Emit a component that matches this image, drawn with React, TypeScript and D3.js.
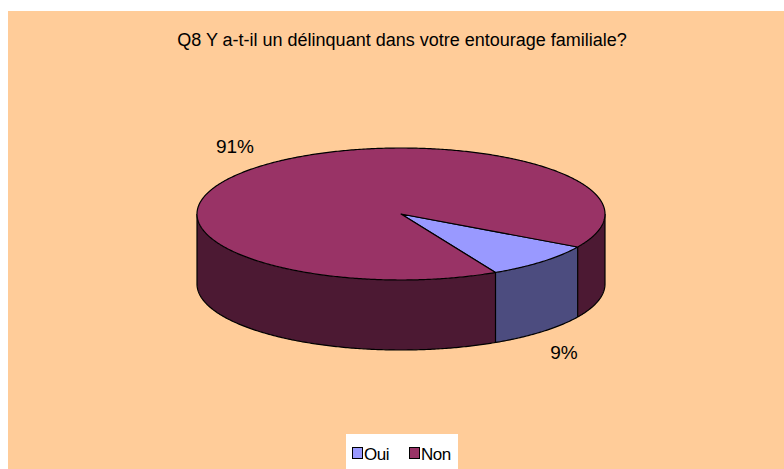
import React from "react";
import * as d3 from "d3";

const categories = ["Oui", "Non"];
const values = [9, 91];
const labels = ["9%", "91%"];
const topColors = ["#9999FF", "#993366"];
const sideColors = ["#4C4C7F", "#4C1933"];

const W = 784, H = 469;
const cx = 401, cy = 214, rx = 204, ry = 66, depth = 70;

function pt(a: number, dy = 0): [number, number] {
  return [cx + rx * Math.sin(a), cy - ry * Math.cos(a) + dy];
}

function arcPoints(a0: number, a1: number, dy = 0) {
  const n = Math.max(2, Math.ceil(Math.abs(a1 - a0) / 0.01));
  const pts: [number, number][] = [];
  for (let i = 0; i <= n; i++) pts.push(pt(a0 + (a1 - a0) * (i / n), dy));
  return pts;
}

export default function App() {
  const start = (120 * Math.PI) / 180;
  const pie = d3.pie<number>().sort(null).startAngle(start).endAngle(start + 2 * Math.PI);
  const arcs = pie(values);
  const line = d3.line();

  const walls: { d: string; color: string }[] = [];
  const edges: string[] = [];
  arcs.forEach((a, i) => {
    for (const k of [0, 1]) {
      const lo = Math.PI / 2 + k * 2 * Math.PI;
      const hi = (3 * Math.PI) / 2 + k * 2 * Math.PI;
      const s = Math.max(a.startAngle, lo);
      const e = Math.min(a.endAngle, hi);
      if (e > s) {
        const top = arcPoints(s, e);
        const bot = arcPoints(e, s, depth);
        walls.push({ d: line([...top, ...bot])! + "Z", color: sideColors[i] });
      }
    }
  });
  arcs.forEach((a) => {
    const ang = a.startAngle % (2 * Math.PI);
    if (Math.cos(ang) < 0) {
      const p = pt(ang);
      edges.push(line([p, [p[0], p[1] + depth]])!);
    }
  });
  edges.push(line([pt(Math.PI / 2), pt(Math.PI / 2, depth)])!);
  edges.push(line([pt((3 * Math.PI) / 2), pt((3 * Math.PI) / 2, depth)])!);
  const bottomCurve = line(arcPoints(Math.PI / 2, (3 * Math.PI) / 2, depth))!;

  const tops = arcs.map((a, i) => {
    const pts = [[cx, cy] as [number, number], ...arcPoints(a.startAngle, a.endAngle)];
    return { d: line(pts)! + "Z", color: topColors[i] };
  });

  const labelPos: [number, number][] = [
    [564, 359],
    [235, 153],
  ];

  const font = "'Liberation Sans', Arial, sans-serif";

  return (
    <svg width={W} height={H} style={{ position: "absolute", left: 0, top: 0 }}>
      <rect x={8} y={11} width={776} height={458} fill="#FFCC99" />
      <text x={402} y={46} textAnchor="middle" fontFamily={font} fontSize={18} fill="#000">
        Q8 Y a-t-il un délinquant dans votre entourage familiale?
      </text>
      {walls.map((w, i) => (
        <path key={"w" + i} d={w.d} fill={w.color} stroke="none" />
      ))}
      <path d={bottomCurve} fill="none" stroke="#000" strokeWidth={1.2} />
      {edges.map((d, i) => (
        <path key={"e" + i} d={d} fill="none" stroke="#000" strokeWidth={1.2} />
      ))}
      {tops.map((t, i) => (
        <path key={"t" + i} d={t.d} fill={t.color} stroke="#000" strokeWidth={1.2} strokeLinejoin="round" />
      ))}
      {labels.map((l, i) => (
        <text key={"l" + i} x={labelPos[i][0]} y={labelPos[i][1]} textAnchor="middle" fontFamily={font} fontSize={19} fill="#000">
          {l}
        </text>
      ))}
      <rect x={346} y={434} width={112} height={40} fill="#FFFFFF" />
      {categories.map((c, i) => {
        const x0 = i === 0 ? 352 : 409;
        return (
          <g key={"lg" + i}>
            <rect x={x0 + 0.5} y={447.5} width={10} height={11} fill={topColors[i]} stroke="#000" strokeWidth={1} />
            <text x={x0 + 12} y={460} fontFamily={font} fontSize={17} fill="#000" letterSpacing={-0.5}>
              {c}
            </text>
          </g>
        );
      })}
    </svg>
  );
}
